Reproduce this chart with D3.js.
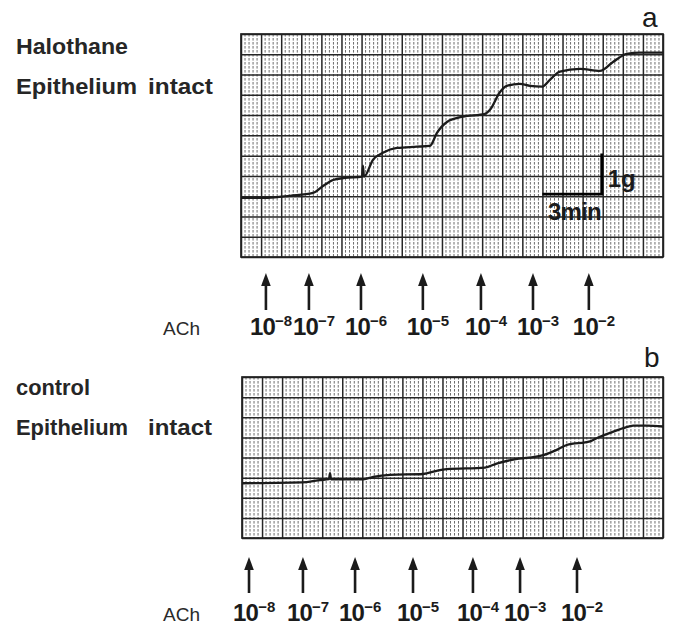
<!DOCTYPE html>
<html>
<head>
<meta charset="utf-8">
<script src="https://cdn.jsdelivr.net/npm/d3@7/dist/d3.min.js"></script>
<style>
  body { margin: 0; background: #fff; }
  svg { display: block; font-family: "Liberation Sans", Arial, Helvetica, sans-serif; }
</style>
</head>
<body>
<svg id="fig" width="673" height="626"></svg>
<script>
// ACh doses (log M) given at the arrows
const doseLabels = ["\u22128", "\u22127", "\u22126", "\u22125", "\u22124", "\u22123", "\u22122"];

// panel a: halothane, epithelium intact (time in min, tension in g above grid bottom)
const arrowTimesA = [1.24, 3.38, 5.97, 9.05, 11.94, 14.53, 17.31];
const traceTimeA = [0, 1.34, 2.44, 3.58, 4.08, 4.58, 5.17, 6.02, 6.07, 6.12, 6.57, 7.06, 7.76, 8.76, 9.40,
  9.75, 10.25, 11.04, 12.14, 12.39, 12.89, 13.23, 13.88, 14.38, 14.98, 15.37, 15.87, 16.87, 17.86,
  18.51, 19.20, 19.85, 21.0];
const traceGramA = [1.46, 1.46, 1.51, 1.58, 1.75, 1.90, 1.95, 1.98, 2.25, 1.98, 2.40, 2.57, 2.69, 2.72, 2.74,
  3.06, 3.33, 3.46, 3.53, 3.63, 4.07, 4.22, 4.27, 4.22, 4.20, 4.37, 4.57, 4.64, 4.59,
  4.81, 5.01, 5.04, 5.04];

// panel b: control, epithelium intact
const arrowTimesB = [0.35, 3.04, 5.64, 8.53, 11.52, 13.87, 16.71];
const traceTimeB = [0, 3.23, 3.89, 4.34, 4.39, 4.44, 6.05, 6.55, 7.38, 9.04, 9.71, 10.21, 12.12, 12.70,
  13.53, 15.03, 15.70, 16.20, 17.36, 17.69, 18.35, 19.02, 19.52, 20.19, 21.0];
const traceGramB = [1.36, 1.39, 1.44, 1.46, 1.61, 1.46, 1.46, 1.52, 1.57, 1.59, 1.67, 1.71, 1.75, 1.85,
  1.95, 2.06, 2.19, 2.31, 2.40, 2.48, 2.61, 2.73, 2.79, 2.79, 2.77];

const svg = d3.select("#fig");
const ink = "#1b1b1b";

function drawPanel(p) {
  const x = d3.scaleLinear().domain([0, 21]).range([p.x0, p.x1]);
  const y = d3.scaleLinear().domain([0, p.grams]).range([p.y1, p.y0]);
  const g = svg.append("g");

  // chart paper: fine dotted rulings
  g.append("g").selectAll("line")
    .data(d3.range(0, 21 * 5 + 1).filter(i => i % 5))
    .join("line")
    .attr("x1", i => x(i / 5)).attr("x2", i => x(i / 5))
    .attr("y1", p.y0).attr("y2", p.y1)
    .attr("stroke", "#6e6e6e")
    .attr("stroke-width", 1)
    .attr("stroke-dasharray", "2.6,1.4");

  // major rulings through the axes
  g.append("g")
    .attr("transform", `translate(0,${p.y1})`)
    .call(d3.axisBottom(x).tickValues(d3.range(0, 22)).tickSize(-(p.y1 - p.y0)).tickFormat(""))
    .call(a => a.select(".domain").remove())
    .call(a => a.selectAll("line").attr("stroke", "#262626").attr("stroke-width", 1.5));
  g.append("g")
    .attr("transform", `translate(${p.x0},0)`)
    .call(d3.axisLeft(y).tickValues(d3.range(0, p.grams + 0.01, 0.5)).tickSize(-(p.x1 - p.x0)).tickFormat(""))
    .call(a => a.select(".domain").remove())
    .call(a => a.selectAll("line").attr("stroke", "#262626").attr("stroke-width", 1.5));

  g.append("rect")
    .attr("x", p.x0).attr("y", p.y0)
    .attr("width", p.x1 - p.x0).attr("height", p.y1 - p.y0)
    .attr("fill", "none").attr("stroke", "#222").attr("stroke-width", 1.7);

  // force trace
  const line = d3.line()
    .x(i => x(p.times[i]))
    .y(i => y(p.grams_[i]))
    .curve(d3.curveMonotoneX);
  g.append("path")
    .attr("d", line(d3.range(p.times.length)))
    .attr("fill", "none")
    .attr("stroke", ink)
    .attr("stroke-width", 2.3);

  // dose arrows
  const arrows = g.append("g").selectAll("g").data(p.arrows).join("g")
    .attr("transform", t => `translate(${x(t)},0)`);
  arrows.append("line")
    .attr("x1", 0).attr("x2", 0)
    .attr("y1", p.arrowTop + 10).attr("y2", p.arrowBottom)
    .attr("stroke", ink).attr("stroke-width", 2.6);
  arrows.append("path")
    .attr("d", `M-4.8,${p.arrowTop + 13}L0,${p.arrowTop}L4.8,${p.arrowTop + 13}Z`)
    .attr("fill", ink);

  // dose labels
  const lab = g.append("g").selectAll("text").data(p.arrows).join("text")
    .attr("x", t => x(t) - 16)
    .attr("y", p.labelY)
    .attr("fill", ink);
  lab.append("tspan")
    .attr("font-size", 24).attr("font-weight", "bold").attr("letter-spacing", -0.8)
    .text("10");
  lab.append("tspan")
    .attr("font-size", 15).attr("font-weight", "bold").attr("dy", -9)
    .text((t, i) => doseLabels[i]);

  svg.append("text")
    .attr("x", 163).attr("y", p.labelY)
    .attr("font-size", 19)
    .attr("fill", "#2a2a2a")
    .text("ACh");

  return { x, y };
}

const a = drawPanel({
  x0: 241, x1: 663, y0: 34, y1: 257, grams: 5.5,
  times: traceTimeA, grams_: traceGramA, arrows: arrowTimesA,
  arrowTop: 273, arrowBottom: 310, labelY: 335
});
drawPanel({
  x0: 242, x1: 663, y0: 377, y1: 538, grams: 4,
  times: traceTimeB, grams_: traceGramB, arrows: arrowTimesB,
  arrowTop: 557, arrowBottom: 593, labelY: 621
});

// calibration bar on panel a: 1 g, 3 min
svg.append("path")
  .attr("d", `M${a.x(15)},${a.y(1.55)}H${a.x(17.95)}V${a.y(2.55)}`)
  .attr("fill", "none").attr("stroke", "#000").attr("stroke-width", 2.8);
svg.append("text").attr("x", a.x(18) + 5).attr("y", 187)
  .attr("font-size", 24).attr("font-weight", "bold").attr("fill", ink).text("1g");
svg.append("text").attr("x", 548).attr("y", 220)
  .attr("font-size", 24).attr("font-weight", "bold").attr("letter-spacing", -0.8).attr("fill", ink).text("3min");

// panel titles
const titles = [
  { t: "Halothane", x: 16, y: 54, w: 112 },
  { t: "Epithelium", x: 16, y: 94, w: 121 },
  { t: "intact", x: 148, y: 94, w: 65 },
  { t: "control", x: 16, y: 395, w: 74 },
  { t: "Epithelium", x: 16, y: 435, w: 112 },
  { t: "intact", x: 148, y: 435, w: 64 }
];
svg.append("g").selectAll("text").data(titles).join("text")
  .attr("x", d => d.x).attr("y", d => d.y)
  .attr("font-size", 22).attr("font-weight", "bold")
  .attr("textLength", d => d.w).attr("lengthAdjust", "spacingAndGlyphs")
  .attr("fill", "#262626")
  .text(d => d.t);

svg.append("text").attr("x", 642).attr("y", 27).attr("font-size", 28).attr("fill", ink).text("a");
svg.append("text").attr("x", 644).attr("y", 367).attr("font-size", 28).attr("fill", ink).text("b");
</script>
</body>
</html>
